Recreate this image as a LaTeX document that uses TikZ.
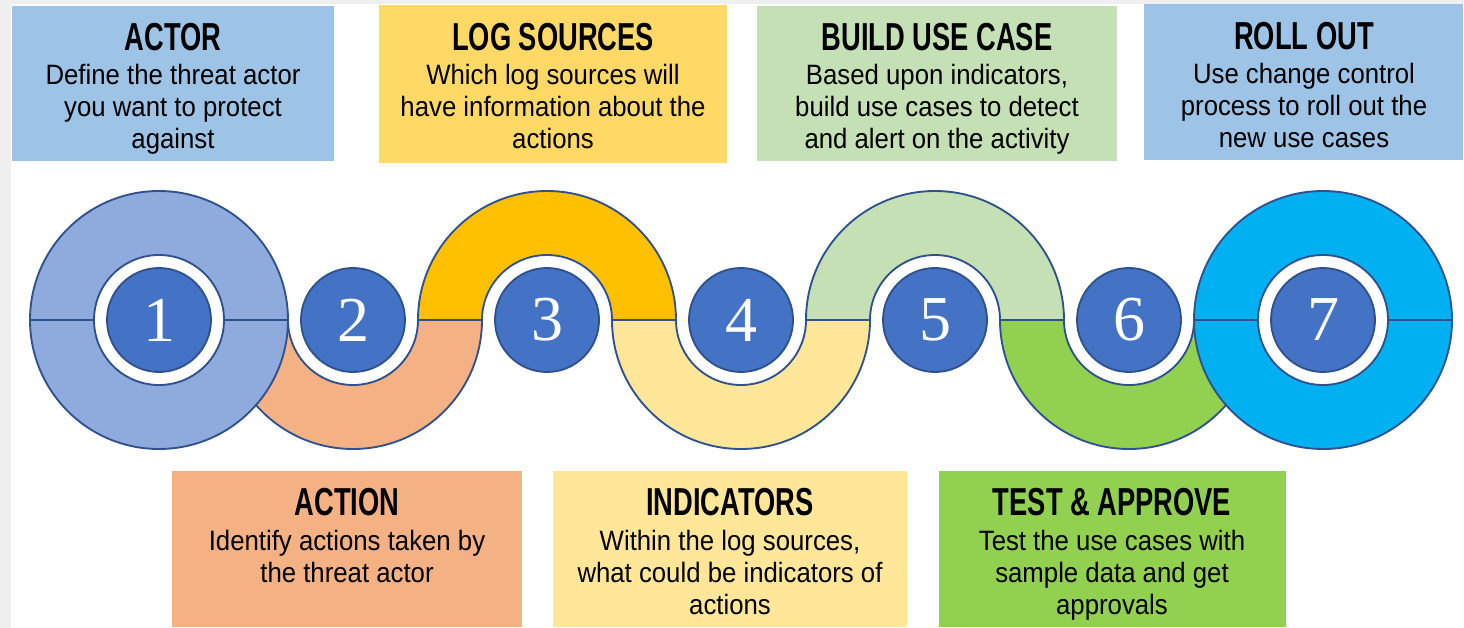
\documentclass[tikz,border=0pt]{standalone}
\usepackage{fontspec}
\setmainfont{Liberation Sans}
\newfontfamily\titlef[FakeStretch=0.70]{Liberation Sans}
\newfontfamily\bodyf[FakeStretch=0.92]{Liberation Sans}
\newfontfamily\numf{Liberation Serif}
\usetikzlibrary{fit}
\definecolor{edge}{HTML}{2F528F}
\definecolor{numblue}{HTML}{4472C4}
\definecolor{c1}{HTML}{8FAADC}
\definecolor{c7}{HTML}{00B0F0}
\definecolor{orangeb}{HTML}{F4B183}
\definecolor{gold}{HTML}{FFC000}
\definecolor{paleyellow}{HTML}{FFE699}
\definecolor{palegreen}{HTML}{C5E0B4}
\definecolor{greenb}{HTML}{92D050}
\definecolor{skyb}{HTML}{9DC3E6}
\definecolor{logy}{HTML}{FFD966}
\definecolor{strip}{HTML}{EFEFEF}
\begin{document}
\begin{tikzpicture}[x=0.75pt,y=0.75pt,
  line width=1.4pt,
  infobox/.style={inner sep=0pt, draw=none},
  ttl/.style={anchor=base, inner sep=0pt, font=\titlef\bfseries\fontsize{29.25pt}{30pt}\selectfont},
  bdy/.style={anchor=north, inner sep=0pt, align=center, font=\bodyf\fontsize{21pt}{24pt}\selectfont},
  numc/.style={circle, draw=edge, fill=numblue, minimum size=78pt, inner sep=0pt,
    text=white, font=\numf\fontsize{48pt}{48pt}\selectfont},
  band/.style={draw=edge, line join=round}]
\useasboundingbox (0,0) rectangle (1464,-628);
\fill[strip] (0,0) rectangle (1464,-628);
\fill[white] (11,-4) rectangle (1464,-628);

% ---------- bands ----------
\def\Ro{96.75pt}
\def\Ri{48.75pt}
% lower band around 2
\draw[band, fill=orangeb] (353-129,-320) arc[start angle=180,end angle=360,radius=\Ro]
  -- (353+65,-320) arc[start angle=0,end angle=-180,radius=\Ri] -- cycle;
% upper band around 3
\draw[band, fill=gold] (547-129,-320) arc[start angle=180,end angle=0,radius=\Ro]
  -- (547+65,-320) arc[start angle=0,end angle=180,radius=\Ri] -- cycle;
% lower band around 4
\draw[band, fill=paleyellow] (741-129,-320) arc[start angle=180,end angle=360,radius=\Ro]
  -- (741+65,-320) arc[start angle=0,end angle=-180,radius=\Ri] -- cycle;
% upper band around 5
\draw[band, fill=palegreen] (935-129,-320) arc[start angle=180,end angle=0,radius=\Ro]
  -- (935+65,-320) arc[start angle=0,end angle=180,radius=\Ri] -- cycle;
% lower band around 6
\draw[band, fill=greenb] (1129-129,-320) arc[start angle=180,end angle=360,radius=\Ro]
  -- (1129+65,-320) arc[start angle=0,end angle=-180,radius=\Ri] -- cycle;

% ---------- big end circles ----------
\draw[band, fill=c1] (159,-320) circle[radius=\Ro];
\draw[band, fill=white] (159,-320) circle[radius=\Ri];
\draw[edge] (30,-320) -- (94,-320) (224,-320) -- (288,-320);
\draw[band, fill=c7] (1323,-320) circle[radius=\Ro];
\draw[band, fill=white] (1323,-320) circle[radius=\Ri];
\draw[edge] (1194,-320) -- (1258,-320) (1388,-320) -- (1452,-320);

% ---------- number circles ----------
\node[numc] (n1) at (159,-320) {1};
\node[numc] (n2) at (353,-320) {2};
\node[numc] (n3) at (547,-320) {3};
\node[numc] (n4) at (741,-320) {4};
\node[numc] (n5) at (935,-320) {5};
\node[numc] (n6) at (1129,-320) {6};
\node[numc] (n7) at (1323,-320) {7};

% ---------- top boxes ----------
\node[infobox, fill=skyb, fit={(12,-6) (334,-161)}] (bx1) {};
\node[ttl] (t1) at (173,-50) {ACTOR};
\node[bdy] (d1) at (173,-61.6) {\rule{0pt}{0.8em}Define the threat actor\\you want to protect\\against};

\node[infobox, fill=logy, fit={(379,-5) (727,-163)}] (bx3) {};
\node[ttl] (t3) at (553,-50) {LOG SOURCES};
\node[bdy] (d3) at (553,-61.6) {\rule{0pt}{0.8em}Which log sources will\\have information about the\\actions};

\node[infobox, fill=palegreen, fit={(757,-6) (1117,-161)}] (bx5) {};
\node[ttl] (t5) at (937,-50) {BUILD USE CASE};
\node[bdy] (d5) at (937,-61.6) {\rule{0pt}{0.8em}Based upon indicators,\\build use cases to detect\\and alert on the activity};

\node[infobox, fill=skyb, fit={(1144,-4) (1463,-160)}] (bx7) {};
\node[ttl] (t7) at (1304,-49) {ROLL OUT};
\node[bdy] (d7) at (1304,-60.6) {\rule{0pt}{0.8em}Use change control\\process to roll out the\\new use cases};

% ---------- bottom boxes ----------
\node[infobox, fill=orangeb, fit={(172,-471) (522,-627)}] (bx2) {};
\node[ttl] (t2) at (347,-515) {ACTION};
\node[bdy] (d2) at (347,-527.6) {\rule{0pt}{0.8em}Identify actions taken by\\the threat actor};

\node[infobox, fill=paleyellow, fit={(553,-471) (907,-627)}] (bx4) {};
\node[ttl] (t4) at (730,-515) {INDICATORS};
\node[bdy] (d4) at (730,-527.6) {\rule{0pt}{0.8em}Within the log sources,\\what could be indicators of\\actions};

\node[infobox, fill=greenb, fit={(939,-471) (1286,-627)}] (bx6) {};
\node[ttl] (t6) at (1112,-515) {TEST \& APPROVE};
\node[bdy] (d6) at (1112,-527.6) {\rule{0pt}{0.8em}Test the use cases with\\sample data and get\\approvals};
\end{tikzpicture}
\end{document}
